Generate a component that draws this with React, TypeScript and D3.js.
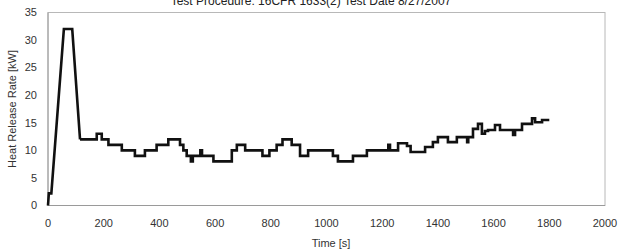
import React from "react";
import * as d3 from "d3";

const title = "Test Procedure: 16CFR 1633(2) Test Date 8/27/2007";
const xTitle = "Time [s]";
const yTitle = "Heat Release Rate [kW]";
const xTicks = [0, 200, 400, 600, 800, 1000, 1200, 1400, 1600, 1800, 2000];
const yTicks = [0, 5, 10, 15, 20, 25, 30, 35];

// ignition ramp (linear segments)
const rampTime = [0, 3, 12, 57, 87, 115];
const rampHrr = [0, 2.2, 2.2, 32, 32, 12];

// step section: value holds from each time until the next
const stepTime = [
  115, 175, 193, 217, 265, 312, 348, 390, 432, 474, 486, 498, 513, 520, 547, 553, 594,
  660, 678, 708, 770, 795, 821, 842, 875, 905, 934, 1023, 1041, 1095, 1145, 1222, 1228,
  1257, 1289, 1302, 1354, 1382, 1400, 1436, 1468, 1505, 1509, 1526, 1544, 1558, 1569,
  1580, 1605, 1623, 1670, 1677, 1702, 1738, 1749, 1774, 1800,
];
const stepHrr = [
  12, 13, 12, 11, 10, 9, 10, 11, 12, 11, 10, 9, 8, 9, 10, 9, 8,
  10, 11, 10, 9, 10, 11, 12, 11, 9, 10, 9, 8, 9, 10, 11, 10,
  11.3, 10.8, 9.7, 10.6, 11.5, 12.4, 11.5, 12.4, 11.5, 12.4, 13.9, 14.8, 13, 13.5,
  13.7, 14.6, 13.7, 12.8, 13.7, 14.8, 15.8, 15.1, 15.5, 15.5,
];

export default function App() {
  const left = 48, right = 605, top = 12.5, bottom = 205.5;
  const x = d3.scaleLinear().domain([0, 2000]).range([left, right]);
  const y = d3.scaleLinear().domain([0, 35]).range([bottom, top]);

  const ramp = rampTime.map((t, i) => [t, rampHrr[i]] as [number, number]);
  const steps = stepTime.map((t, i) => [t, stepHrr[i]] as [number, number]);

  const lineLin = d3.line<[number, number]>().x(d => x(d[0])).y(d => y(d[1]));
  const lineStep = d3
    .line<[number, number]>()
    .x(d => x(d[0]))
    .y(d => y(d[1]))
    .curve(d3.curveStepAfter);

  const font = "'Liberation Sans', Arial, sans-serif";

  return (
    <svg
      width={621}
      height={251}
      style={{ position: "absolute", left: 0, top: 0, background: "#fff" }}
      fontFamily={font}
    >
      <rect x={0} y={0} width={621} height={251} fill="#fff" />
      <text x={311} y={4.5} textAnchor="middle" fontSize={12} fill="#222">
        {title}
      </text>
      {/* plot frame */}
      <rect x={left} y={top} width={right - left} height={bottom - top} fill="none" stroke="#b8b8b8" strokeWidth={1} />
      <line x1={left} x2={left} y1={top} y2={bottom} stroke="#9a9a9a" />
      <line x1={left} x2={right} y1={bottom} y2={bottom} stroke="#9a9a9a" />
      {yTicks.map(v => (
        <text key={"y" + v} x={37} y={y(v)} dy="0.35em" textAnchor="end" fontSize={11} fill="#333">
          {v}
        </text>
      ))}
      {xTicks.map(v => (
        <text key={"x" + v} x={x(v)} y={227} textAnchor="middle" fontSize={11} fill="#333">
          {v}
        </text>
      ))}
      <text x={331} y={247} textAnchor="middle" fontSize={11} fill="#333">
        {xTitle}
      </text>
      <text
        transform={`translate(15.5,${(top + bottom) / 2}) rotate(-90)`}
        textAnchor="middle"
        fontSize={11}
        fill="#333"
      >
        {yTitle}
      </text>
      <path d={lineLin(ramp) || ""} fill="none" stroke="#111" strokeWidth={2.6} strokeLinejoin="miter" />
      <path d={lineStep(steps) || ""} fill="none" stroke="#111" strokeWidth={2.6} strokeLinejoin="miter" />
    </svg>
  );
}
